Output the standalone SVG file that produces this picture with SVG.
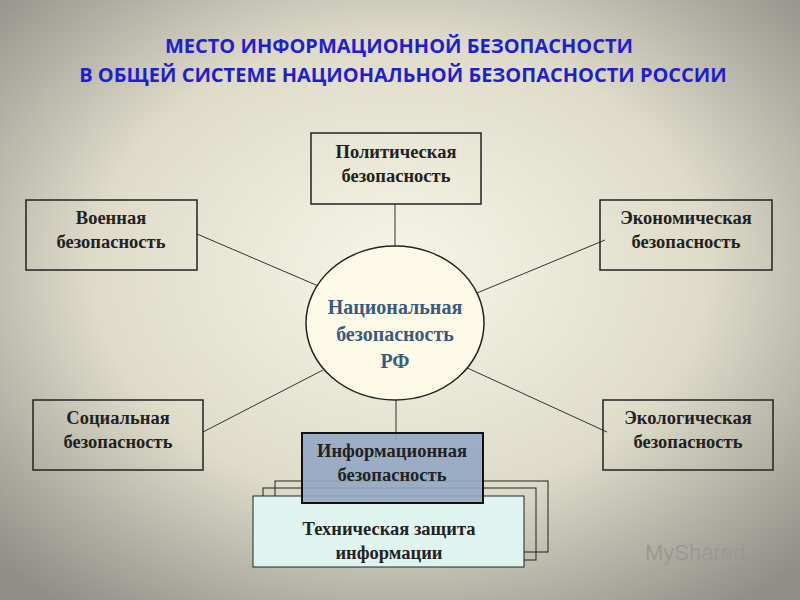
<svg xmlns="http://www.w3.org/2000/svg" width="800" height="600" viewBox="0 0 800 600">
<defs>
<radialGradient id="bg" cx="0.5" cy="0.45" r="0.7">
<stop offset="0" stop-color="#f7f5e6"/><stop offset="0.55" stop-color="#dedbc9"/><stop offset="1" stop-color="#8f8e88"/>
</radialGradient>
</defs>
<style>
.box{fill:none;stroke:#222;stroke-width:1.5}
.t{font-family:"Liberation Serif",serif;font-weight:bold;font-size:18.5px;fill:#222;text-anchor:middle}
.ln{stroke:#333;stroke-width:1}
.h{font-family:"Open Sans","Liberation Sans",sans-serif;font-weight:bold;font-size:20px;fill:#1f1fd0;text-anchor:middle}
</style>
<rect width="800" height="600" fill="url(#bg)"/>
<text class="h" x="399" y="53">МЕСТО ИНФОРМАЦИОННОЙ БЕЗОПАСНОСТИ</text>
<text class="h" x="403" y="82">В ОБЩЕЙ СИСТЕМЕ НАЦИОНАЛЬНОЙ БЕЗОПАСНОСТИ РОССИИ</text>
<g id="connectors">
<line class="ln" x1="395" y1="204" x2="395" y2="246"/>
<line class="ln" x1="197" y1="234" x2="323" y2="288"/>
<line class="ln" x1="605" y1="240" x2="477" y2="293"/>
<line class="ln" x1="203" y1="432" x2="323" y2="370"/>
<line class="ln" x1="607" y1="432" x2="463" y2="366"/>
<line class="ln" x1="396" y1="400" x2="396" y2="440"/>
</g>
<g id="center">
<ellipse cx="395" cy="323" rx="89" ry="77" fill="#fdfbe8" stroke="#222" stroke-width="1.5"/>
<text class="t" x="395" y="314" style="fill:#3a5a80;font-size:20px">Национальная</text>
<text class="t" x="395" y="341" style="fill:#3a5a80;font-size:20px">безопасность</text>
<text class="t" x="395" y="368" style="fill:#3a5a80;font-size:20px">РФ</text>
</g>
<g id="political"><rect class="box" x="311" y="133" width="170" height="71"/>
<text class="t" x="396" y="158">Политическая</text><text class="t" x="396" y="182">безопасность</text></g>
<g id="military"><rect class="box" x="26" y="200" width="171" height="70"/>
<text class="t" x="111" y="224">Военная</text><text class="t" x="111" y="248">безопасность</text></g>
<g id="economic"><rect class="box" x="600" y="200" width="172" height="70"/>
<text class="t" x="686" y="224">Экономическая</text><text class="t" x="686" y="248">безопасность</text></g>
<g id="social"><rect class="box" x="33" y="400" width="170" height="70"/>
<text class="t" x="118" y="424">Социальная</text><text class="t" x="118" y="448">безопасность</text></g>
<g id="ecological"><rect class="box" x="603" y="400" width="170" height="70"/>
<text class="t" x="688" y="424">Экологическая</text><text class="t" x="688" y="448">безопасность</text></g>
<g id="technical">
<rect class="box" x="275" y="481" width="273" height="71" style="stroke-width:1"/>
<rect class="box" x="263" y="488" width="273" height="72" style="stroke-width:1"/>
<rect x="253" y="496" width="271" height="71" fill="#dff3ef" stroke="#222" stroke-width="1"/>
<text class="t" x="389" y="535">Техническая защита</text><text class="t" x="389" y="559">информации</text></g>
<g id="info"><rect x="302" y="433" width="181" height="70" fill="#93a7c4" fill-opacity="0.9" stroke="#111" stroke-width="2"/>
<text class="t" x="392" y="457">Информационная</text><text class="t" x="392" y="481">безопасность</text></g>
<text x="645" y="560" font-family="Liberation Sans,sans-serif" font-size="22" fill="#9a9a94">MyShared</text>
</svg>
